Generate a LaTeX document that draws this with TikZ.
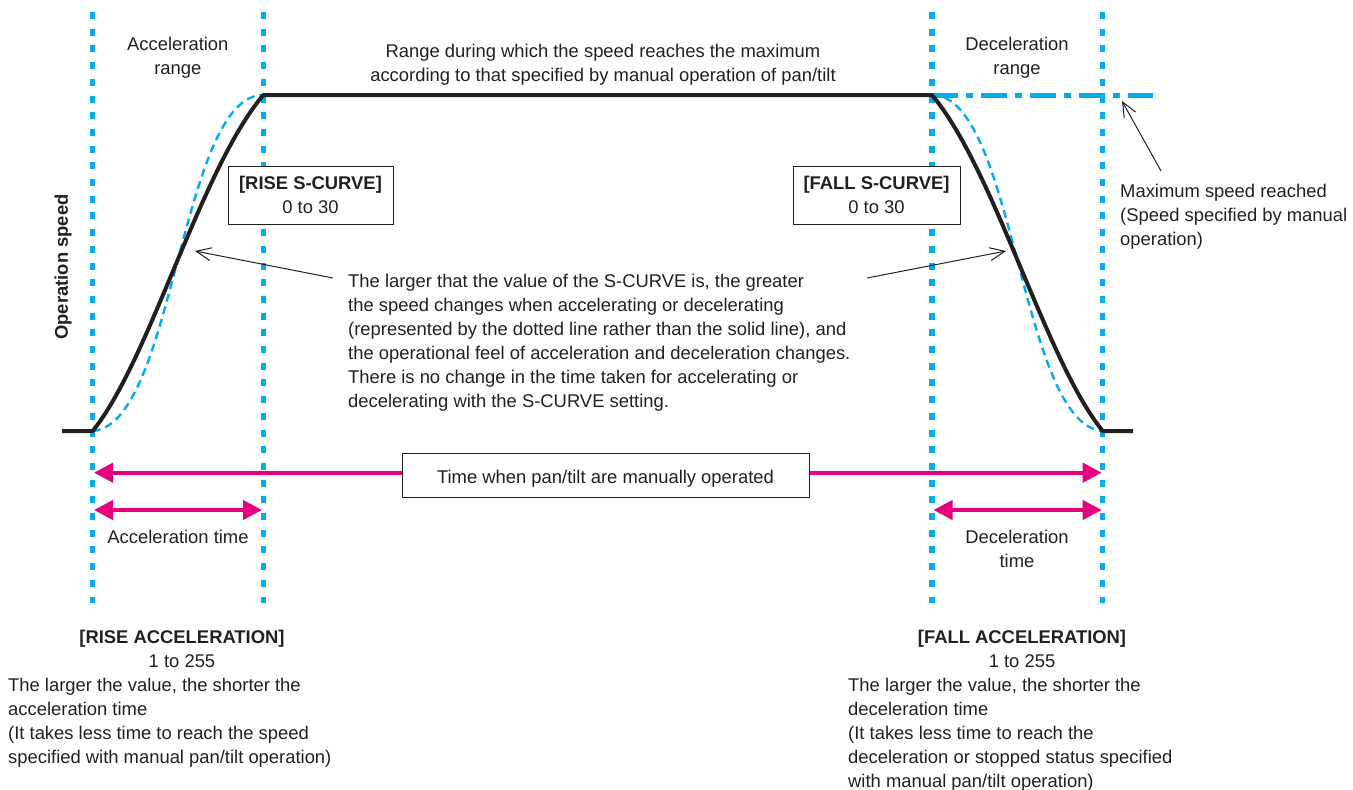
\documentclass[tikz,border=0pt]{standalone}
\usepackage{fontspec}
\setmainfont{Liberation Sans}
\usetikzlibrary{arrows.meta}
\definecolor{cy}{RGB}{0,174,239}
\definecolor{pk}{RGB}{230,0,126}
\definecolor{ink}{RGB}{35,31,32}
\begin{document}
\begin{tikzpicture}[x=1pt,y=-1pt,
 every node/.style={inner sep=0pt, text=ink, font=\fontsize{18.4}{24}\selectfont},
 guide/.style={cy, line width=5.3pt, dash pattern=on 7pt off 9.7pt},
 speed/.style={ink, line width=4pt, line join=round},
 scurve/.style={cy, line width=2.4pt, dash pattern=on 8pt off 5pt},
 maxline/.style={cy, line width=5pt, dash pattern=on 26pt off 8pt on 7pt off 8pt},
 pinkarrow/.style={pk, line width=4pt, {Triangle[length=19pt,width=19pt]}-{Triangle[length=19pt,width=19pt]}},
 note/.style={ink, line width=1pt, -{Straight Barb[length=15pt,width=13pt]}},
 box/.style={draw=ink, line width=1pt, fill=white},
]
\useasboundingbox (0,0) rectangle (1353,790);

% guide lines
\coordinate (g1t) at (92.7,12);  \coordinate (g1b) at (92.7,603);
\coordinate (g2t) at (263.3,12); \coordinate (g2b) at (263.3,603);
\coordinate (g3t) at (932,12);   \coordinate (g3b) at (932,603);
\coordinate (g4t) at (1102.7,12);\coordinate (g4b) at (1102.7,603);
\draw[guide] (g1t) -- (g1b);
\draw[guide] (g2t) -- (g2b);
\draw[guide] (g3t) -- (g3b);
\draw[guide] (g4t) -- (g4b);

% speed profile points
\coordinate (L0) at (62,431);
\coordinate (A0) at (92.7,431);
\coordinate (A1) at (263.3,95);
\coordinate (D0) at (932,95);
\coordinate (D1) at (1102.7,431);
\coordinate (R0) at (1133,431);
\coordinate (M1) at (1153,95);

% max speed line
\draw[maxline] (D0) -- (M1);

% S-curves (dashed)
\draw[scurve] (A0) .. controls (175,425) and (180,95) .. (A1);
\draw[scurve] (D0) .. controls (1015,95) and (1020,425) .. (D1);

% solid profile
\draw[speed] (L0) -- (A0) .. controls (150,360) and (200,170) .. (A1) -- (D0)
   .. controls (995,170) and (1045,360) .. (D1) -- (R0);

% top labels
\node[align=center, anchor=north] (accr) at (177.8,36.6) {Acceleration\\range};
\node[align=center, anchor=north] (decr) at (1017,36.6) {Deceleration\\range};
\node[align=center, anchor=north] (rng) at (603,43.6) {Range during which the speed reaches the maximum\\according to that specified by manual operation of pan/tilt};

% S-curve boxes
\node[box, align=center, minimum width=165, minimum height=58] (rsc) at (310.5,195) {\textbf{[RISE S-CURVE]}\\0 to 30};
\node[box, align=center, minimum width=167, minimum height=58] (fsc) at (876.5,195) {\textbf{[FALL S-CURVE]}\\0 to 30};

% axis label
\node[rotate=90, font=\fontsize{18.4}{24}\selectfont\bfseries] (ops) at (63,267) {Operation speed};

% middle explanation
\node[align=left, anchor=north west] (expl) at (348,273.6) {The larger that the value of the S-CURVE is, the greater\\the speed changes when accelerating or decelerating\\(represented by the dotted line rather than the solid line), and\\the operational feel of acceleration and deceleration changes.\\There is no change in the time taken for accelerating or\\decelerating with the S-CURVE setting.};
\coordinate (n1s) at (333,278); \coordinate (n1e) at (195,251);
\coordinate (n2s) at (867,278); \coordinate (n2e) at (1006,251);
\draw[note] (n1s) -- (n1e);
\draw[note] (n2s) -- (n2e);

% max speed note
\node[align=left, anchor=north west] (maxn) at (1120,183.6) {Maximum speed reached\\(Speed specified by manual\\operation)};
\coordinate (n3s) at (1161,171); \coordinate (n3e) at (1122,101);
\draw[note] (n3s) -- (n3e);

% time arrows
\coordinate (T0) at (94,472.7); \coordinate (T1) at (1101.7,472.7);
\draw[pinkarrow] (T0) -- (T1);
\node[box, minimum width=407, minimum height=44, text height=20pt, text depth=4pt] (tbox) at (605.5,475) {Time when pan/tilt are manually operated};

\coordinate (a0) at (94,510); \coordinate (a1) at (262,510);
\draw[pinkarrow] (a0) -- (a1);
\coordinate (d0) at (933.5,510); \coordinate (d1) at (1101.7,510);
\draw[pinkarrow] (d0) -- (d1);

\node[anchor=base] (acct) at (178,543) {Acceleration time};
\node[align=center, anchor=north] (dect) at (1017,529.6) {Deceleration\\time};

% bottom texts
\node[align=center, anchor=north] (racc) at (182,629.6) {\textbf{[RISE ACCELERATION]}\\1 to 255};
\node[align=left, anchor=north west] (racct) at (8,677.6) {The larger the value, the shorter the\\acceleration time\\(It takes less time to reach the speed\\specified with manual pan/tilt operation)};
\node[align=center, anchor=north] (facc) at (1022,629.6) {\textbf{[FALL ACCELERATION]}\\1 to 255};
\node[align=left, anchor=north west] (facct) at (848,677.6) {The larger the value, the shorter the\\deceleration time\\(It takes less time to reach the\\deceleration or stopped status specified\\with manual pan/tilt operation)};
\end{tikzpicture}
\end{document}
